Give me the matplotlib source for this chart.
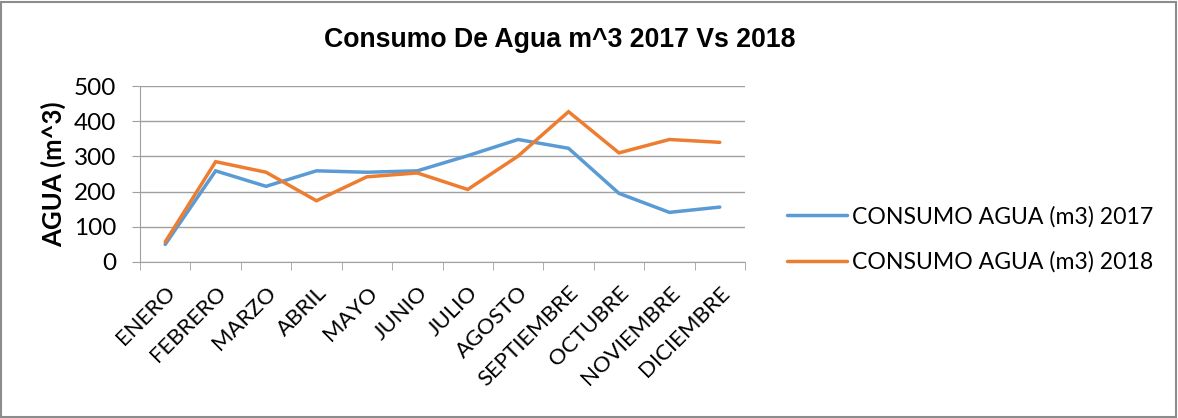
import matplotlib.pyplot as plt
from matplotlib.patches import Rectangle
from matplotlib.ticker import FixedLocator

meses = ['ENERO', 'FEBRERO', 'MARZO', 'ABRIL', 'MAYO', 'JUNIO', 'JULIO',
         'AGOSTO', 'SEPTIEMBRE', 'OCTUBRE', 'NOVIEMBRE', 'DICIEMBRE']
consumo_2017 = [50, 259, 215, 259, 255, 259, 302, 348, 323, 195, 141, 156]
consumo_2018 = [57, 285, 255, 174, 242, 253, 206, 301, 427, 310, 348, 340]
y_ticks = [0, 100, 200, 300, 400, 500]

fuente = 'Lato'

fig = plt.figure(figsize=(11.78, 4.18), dpi=100)
ax = fig.add_axes([140 / 1178, 1 - 262 / 418, 605 / 1178, 176 / 418])

x = list(range(len(meses)))
ax.plot(x, consumo_2017, color='#5B9BD5', lw=2.5, label='CONSUMO AGUA (m3) 2017',
        solid_capstyle='round', solid_joinstyle='miter', zorder=3)
ax.plot(x, consumo_2018, color='#ED7D31', lw=2.5, label='CONSUMO AGUA (m3) 2018',
        solid_capstyle='round', solid_joinstyle='miter', zorder=3)

ax.set_xlim(-0.5, len(meses) - 0.5)
ax.set_ylim(0, 500)
ax.set_yticks(y_ticks)
ax.set_yticklabels([str(v) for v in y_ticks], fontsize=17.5, family=fuente)
ax.grid(axis='y', color='#A0A0A0', lw=1)
ax.set_axisbelow(True)

# ticks at category boundaries, labels at category centres
ax.set_xticks(x)
ax.set_xticklabels(meses, rotation=45, ha='right', rotation_mode='anchor',
                   fontsize=16, family=fuente)
ax.tick_params(axis='x', which='major', length=0, pad=15)
ax.xaxis.set_minor_locator(FixedLocator([i - 0.5 for i in range(len(meses) + 1)]))
ax.tick_params(axis='x', which='minor', length=6, color='#A0A0A0')
ax.tick_params(axis='y', length=6, color='#A0A0A0', pad=11)

for s in ['top', 'right']:
    ax.spines[s].set_visible(False)
ax.spines['left'].set_color('#A0A0A0')
ax.spines['bottom'].set_color('#A0A0A0')

ax.set_ylabel('AGUA (m^3)', fontsize=18.5, fontweight='bold', family=fuente, labelpad=6)

fig.text(560 / 1178, 1 - 40 / 418, 'Consumo De Agua m^3 2017 Vs 2018',
         ha='center', va='center', fontsize=19.2, fontweight='bold', family='Liberation Sans')

leg = fig.legend(loc='upper left', bbox_to_anchor=(766 / 1178, 1 - 185 / 418),
                 frameon=False, prop={'family': fuente, 'size': 16.6},
                 handlelength=2.6, handletextpad=0.25, labelspacing=1.05)

fig.patches.append(Rectangle((1 / 1178, 1 / 418), 1175 / 1178, 415 / 418,
                             transform=fig.transFigure, fill=False,
                             edgecolor='#8C8C8C', lw=1.5))

fig.savefig('out.png', dpi=100)
